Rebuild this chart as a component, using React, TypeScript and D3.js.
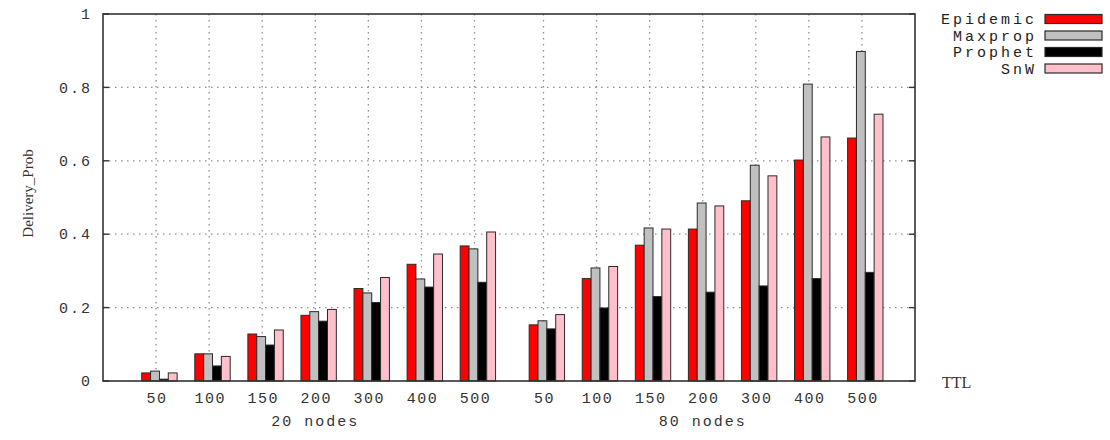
import React from 'react';
import * as d3 from 'd3';

const ttlLabels = ['50', '100', '150', '200', '300', '400', '500'];
const groupLabels = ['20 nodes', '80 nodes'];
const seriesNames = ['Epidemic', 'Maxprop', 'Prophet', 'SnW'];
const seriesColors = ['#ff0000', '#c0c0c0', '#000000', '#ffc0cb'];

const epidemic = [0.022, 0.074, 0.128, 0.179, 0.252, 0.318, 0.368, 0.153, 0.279, 0.37, 0.414, 0.491, 0.602, 0.662];
const maxprop = [0.027, 0.074, 0.121, 0.189, 0.24, 0.278, 0.36, 0.164, 0.308, 0.417, 0.485, 0.588, 0.809, 0.898];
const prophet = [0.005, 0.041, 0.098, 0.163, 0.214, 0.256, 0.269, 0.142, 0.199, 0.23, 0.242, 0.259, 0.279, 0.296];
const snw = [0.022, 0.067, 0.139, 0.195, 0.282, 0.346, 0.406, 0.181, 0.312, 0.414, 0.477, 0.559, 0.665, 0.727];

const yTicks = [0, 0.2, 0.4, 0.6, 0.8, 1];

const W = 1110;
const H = 440;
const left = 103;
const right = 915;
const top = 14;
const bottom = 381;
const groupGap = 7.3;

const mono = '"Liberation Mono", "DejaVu Sans Mono", monospace';

const App: React.FC = () => {
  const series = [epidemic, maxprop, prophet, snw];
  const x = d3.scaleLinear().domain([-1, 14.3]).range([left, right]);
  const y = d3.scaleLinear().domain([0, 1]).range([bottom, top]);
  const unit = x(1) - x(0);
  const barW = unit / 6;

  // positions of every tick along the x axis
  const slots: { pos: number; label: string; g: number; idx: number }[] = [];
  groupLabels.forEach((_, g) => {
    ttlLabels.forEach((t, i) => {
      slots.push({ pos: g * groupGap + i, label: t, g, idx: g * ttlLabels.length + i });
    });
  });

  return (
    <svg width={W} height={H} style={{ position: 'absolute', left: 0, top: 0, background: '#fff' }}>
      <rect x={0} y={0} width={W} height={H} fill="#fff" />
      {/* grid */}
      {yTicks.filter(t => t > 0 && t < 1).map(t => (
        <line key={'gy' + t} x1={left} x2={right} y1={y(t)} y2={y(t)}
          stroke="#8f8f8f" strokeWidth={1.3} strokeDasharray="1.5,4.5" />
      ))}
      {slots.map(s => (
        <line key={'gx' + s.idx} x1={x(s.pos)} x2={x(s.pos)} y1={top} y2={bottom}
          stroke="#8f8f8f" strokeWidth={1.3} strokeDasharray="1.5,4.5" />
      ))}
      {/* bars */}
      {slots.map(s => (
        <g key={'b' + s.idx}>
          {series.map((vals, k) => (
            <rect key={k}
              x={x(s.pos - 0.27) + k * barW}
              y={y(vals[s.idx])}
              width={barW}
              height={y(0) - y(vals[s.idx])}
              fill={seriesColors[k]}
              stroke="#2a2a2a" strokeWidth={1} />
          ))}
        </g>
      ))}
      {/* frame */}
      <rect x={left} y={top} width={right - left} height={bottom - top}
        fill="none" stroke="#333" strokeWidth={1.6} />
      {/* y ticks */}
      {yTicks.map(t => (
        <g key={'yt' + t}>
          <line x1={left} x2={left + 6} y1={y(t)} y2={y(t)} stroke="#333" strokeWidth={1.4} />
          <line x1={right - 6} x2={right} y1={y(t)} y2={y(t)} stroke="#333" strokeWidth={1.4} />
          <text x={92} y={y(t)} dy="0.35em" textAnchor="end" fontFamily={mono}
            fontSize={15} letterSpacing={2} fill="#333">{t === 0 || t === 1 ? String(t) : t.toFixed(1)}</text>
        </g>
      ))}
      {/* x ticks */}
      {slots.map(s => (
        <text key={'xt' + s.idx} x={x(s.pos) + 1} y={398} dy="0.35em" textAnchor="middle"
          fontFamily={mono} fontSize={15} letterSpacing={1.5} fill="#333">{s.label}</text>
      ))}
      {groupLabels.map((g, i) => (
        <text key={g} x={x(i * groupGap + 3)} y={421} dy="0.35em" textAnchor="middle"
          fontFamily={mono} fontSize={15} letterSpacing={2} fill="#333">{g}</text>
      ))}
      <text x={942} y={382} dy="0.35em" fontFamily='"Liberation Serif", serif' fontSize={16} fill="#333">TTL</text>
      <text transform={`translate(28,${(top + bottom) / 2 - 4}) rotate(-90)`} textAnchor="middle" dy="0.35em"
        fontFamily='"Liberation Serif", serif' fontSize={15} fill="#333">Delivery_Prob</text>
      {/* legend */}
      {seriesNames.map((n, k) => (
        <g key={n}>
          <text x={1037} y={19 + k * 16.5} dy="0.35em" textAnchor="end" fontFamily={mono}
            fontSize={15} letterSpacing={3} fill="#222">{n}</text>
          <rect x={1045} y={14.5 + k * 16.5} width={57} height={9} fill={seriesColors[k]}
            stroke="#2a2a2a" strokeWidth={1.2} />
        </g>
      ))}
    </svg>
  );
};

export default App;
